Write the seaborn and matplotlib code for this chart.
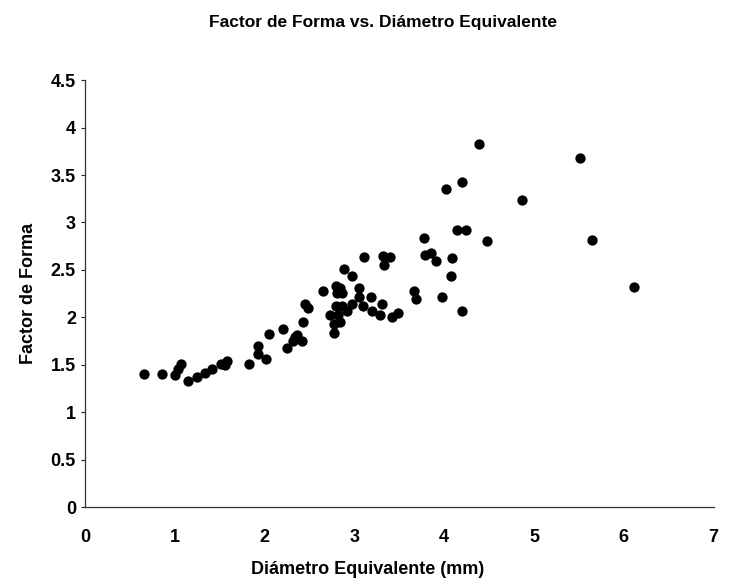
import pandas as pd
import matplotlib.pyplot as plt
import seaborn as sns

# Diámetro equivalente (mm) y factor de forma
diametro = [0.66, 0.855, 1.00, 1.04, 1.07, 1.15, 1.25, 1.34, 1.42, 1.51, 1.58, 1.56,
            1.83, 1.93, 1.93, 2.02, 2.05, 2.21, 2.25, 2.34, 2.36, 2.42, 2.32, 2.43,
            2.45, 2.48, 2.65, 2.79, 2.84, 2.81, 2.86, 2.88, 2.97, 3.11, 3.05, 3.05,
            3.18, 2.79, 2.86, 2.73, 2.82, 2.92, 2.97, 2.77, 2.84, 2.77, 3.10, 3.20,
            3.29, 3.31, 3.42, 3.49, 3.32, 3.40, 3.33, 3.66, 3.69, 3.77, 3.79, 3.85,
            3.91, 3.98, 4.09, 4.08, 4.20, 4.14, 4.24, 4.02, 4.20, 4.39, 4.48, 4.87,
            5.51, 5.64, 6.11]
factor = [1.40, 1.40, 1.39, 1.46, 1.51, 1.33, 1.37, 1.41, 1.46, 1.51, 1.54, 1.50,
          1.51, 1.70, 1.61, 1.56, 1.83, 1.88, 1.68, 1.79, 1.81, 1.75, 1.75, 1.95,
          2.14, 2.10, 2.28, 2.33, 2.31, 2.26, 2.26, 2.51, 2.44, 2.64, 2.31, 2.21,
          2.21, 2.12, 2.12, 2.03, 2.02, 2.07, 2.14, 1.93, 1.95, 1.84, 2.12, 2.07,
          2.02, 2.14, 2.00, 2.05, 2.65, 2.64, 2.55, 2.28, 2.19, 2.84, 2.66, 2.68,
          2.59, 2.21, 2.63, 2.44, 2.07, 2.92, 2.92, 3.35, 3.43, 3.83, 2.80, 3.24,
          3.68, 2.82, 2.32]

dados = pd.DataFrame({'Diametro': diametro, 'Factor': factor})

sns.set_style('ticks')
plt.rcParams['font.family'] = ['Liberation Sans', 'DejaVu Sans']
plt.rcParams['font.weight'] = 'bold'
plt.rcParams['text.color'] = 'black'
plt.rcParams['axes.labelcolor'] = 'black'

fig = plt.figure(figsize=(7.32, 5.85), dpi=100)
ax = fig.add_axes([0.116, 0.133, 0.859, 0.73])

sns.scatterplot(data=dados, x='Diametro', y='Factor', color='black', s=55,
                edgecolor='black', linewidth=0, ax=ax)

ax.set_xlim(0, 7)
ax.set_ylim(0, 4.5)
ax.set_xticks(range(0, 8))
ax.set_yticks([0, 0.5, 1, 1.5, 2, 2.5, 3, 3.5, 4, 4.5])
ax.set_yticklabels(['0', '0.5', '1', '1.5', '2', '2.5', '3', '3.5', '4', '4.5'])
ax.tick_params(axis='both', labelsize=13, length=3, width=0.8, colors='#222222', labelcolor='black')
ax.tick_params(axis='x', length=0, pad=16)
for lbl in ax.get_xticklabels() + ax.get_yticklabels():
    lbl.set_fontweight('bold')

sns.despine(ax=ax)
for s in ['left', 'bottom']:
    ax.spines[s].set_linewidth(0.9)
    ax.spines[s].set_color('#333333')

ax.set_xlabel('Diámetro Equivalente (mm)', fontsize=13, fontweight='bold')
ax.xaxis.set_label_coords(0.45, -0.125)
ax.set_ylabel('Factor de Forma', fontsize=13, fontweight='bold', labelpad=10)
fig.suptitle('Factor de Forma vs. Diámetro Equivalente', fontsize=12.5, fontweight='bold',
             x=0.523, y=0.975)

plt.savefig('out.png', dpi=100)
